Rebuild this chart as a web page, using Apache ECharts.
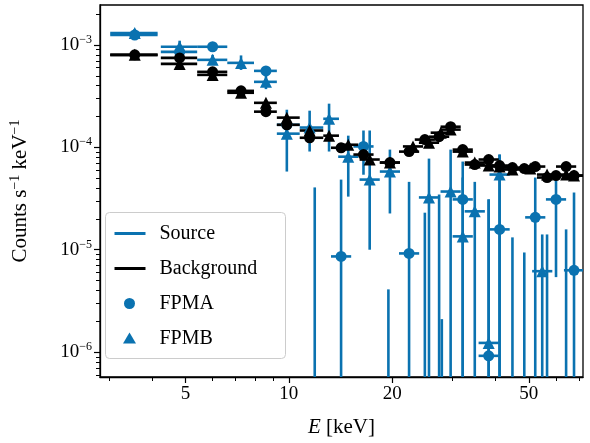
<!DOCTYPE html>
<html><head><meta charset="utf-8">
<script src="https://cdn.jsdelivr.net/npm/echarts@6/dist/echarts.min.js"></script>
<style>html,body{margin:0;padding:0;background:#fff}#c{width:590px;height:443px}</style>
</head><body><div id="c"></div>
<script>
// ---- data (energies in keV, values in counts/s/keV) ----
const xTickLabels = [5, 10, 20, 50];
const xMinorTicks = [3, 4, 6, 7, 8, 9, 30, 40, 60, 70];
const yTickDecades = [-6, -5, -4, -3];
const earlyBinLo = [3.02, 4.24, 5.41, 6.62, 7.92, 9.23, 10.76, 12.6];
const earlyBinHi = [4.15, 5.41, 6.62, 7.92, 9.23, 10.76, 12.6, 14.0];

// source FPMA: energy, value (null = no marker), low err, high err
const srcAE  = [3.56, 4.81, 6.0, 7.26, 8.58, 9.87, 11.9, 14.2, 16.5, 19.5, 22.4, 24.9, 27.4, 27.9, 32.1, 38.2, 41.1, 44.8, 48.5, 52.2, 56.5, 60.0, 64.2, 67.7];
const srcAV  = [1.25e-3, 8.55e-4, 9.6e-4, null, 5.58e-4, 1.66e-4, null, 8.6e-6, 1.02e-4, null, 9.2e-6, null, null, null, 3.1e-5, 9.2e-7, 1.58e-5, null, null, 2.07e-5, null, 3.1e-5, null, 6.3e-6];
const srcALo = [1.15e-3, 7.9e-4, 8.9e-4, null, 5.0e-4, 1.4e-4, null, null, 5.4e-5, null, null, null, null, null, null, null, null, null, null, null, null, 5.4e-6, null, null];
const srcAHi = [1.36e-3, 9.3e-4, 1.05e-3, null, 6.2e-4, 1.9e-4, 4.06e-5, 4.84e-5, 1.46e-4, 4.1e-6, 4.6e-5, 2.3e-5, 3.46e-5, 2.1e-6, 7.26e-5, 3.1e-5, 8.5e-5, 1.32e-5, 9.4e-6, 5.07e-5, 1.41e-5, 5.07e-5, 1.58e-5, 3.62e-5];

// source FPMB
const srcBE  = [3.56, 4.81, 6.0, 7.26, 8.58, 9.87, 11.5, 13.1, 14.9, 17.2, 19.7, 25.6, 29.6, 32.1, 34.8, 38.2, 41.1, 54.7];
const srcBV  = [1.31e-3, 9.6e-4, 7.15e-4, 6.68e-4, 4.36e-4, 1.36e-4, 1.56e-4, 1.9e-4, 8.1e-5, 4.84e-5, 5.8e-5, 3.24e-5, 3.7e-5, 1.35e-5, 2.37e-5, 1.23e-6, 5.42e-5, 6.17e-6];
const srcBLo = [1.2e-3, 8.5e-4, 6.4e-4, 5.7e-4, 3.7e-4, 5.8e-5, 9.1e-5, 9.1e-5, 3.3e-5, 1.0e-5, 2.26e-5, null, null, null, null, null, null, null];
const srcBHi = [1.43e-3, 1.1e-3, 8.0e-4, 7.9e-4, 5.1e-4, 2.33e-4, 2.28e-4, 2.67e-4, 1.3e-4, 1.46e-4, 9.5e-5, 7.76e-5, 9.5e-5, 5.07e-5, 4.6e-5, 3.1e-5, 8.5e-5, 1.41e-5];

// background FPMA
const bkgAE = [3.56, 4.81, 6.0, 7.26, 8.58, 9.87, 11.5, 14.2, 16.5, 19.7, 22.4, 24.9, 27.4, 29.6, 32.1, 34.8, 38.2, 41.1, 44.8, 48.5, 52.2, 56.5, 60.0, 64.2, 67.7];
const bkgAV = [8.0e-4, 7.47e-4, 5.46e-4, 3.56e-4, 2.23e-4, 1.66e-4, 1.24e-4, 9.9e-5, 8.5e-5, 7.1e-5, 9.08e-5, 1.19e-4, 1.27e-4, 1.59e-4, 9.5e-5, 6.79e-5, 7.6e-5, 6.64e-5, 6.34e-5, 6.2e-5, 6.49e-5, 5.07e-5, 5.3e-5, 6.49e-5, 5.3e-5];
// background FPMB
const bkgBE = [3.56, 4.81, 6.0, 7.26, 8.58, 9.87, 11.5, 13.1, 14.9, 17.2, 19.7, 23.0, 25.6, 27.7, 29.6, 32.1, 34.8, 38.2, 41.1, 44.8, 50.5, 56.5, 64.2, 67.7];
const bkgBV = [8.0e-4, 6.53e-4, 5.1e-4, 3.41e-4, 2.72e-4, 1.95e-4, 1.46e-4, 1.3e-4, 1.06e-4, 7.6e-5, 7.1e-5, 1.02e-4, 1.11e-4, 1.39e-4, 1.49e-4, 9.08e-5, 7.1e-5, 6.64e-5, 6.49e-5, 6.07e-5, 6.2e-5, 5.42e-5, 5.42e-5, 5.3e-5];

const BLUE = '#0a72b0', BLACK = '#000';
const L = Math.log10;
const XMIN = L(2.82), XMAX = L(71.9), YMIN = -6.243, YMAX = -2.61;

function bin(e) {
  for (let i = 0; i < earlyBinLo.length; i++) {
    const c = Math.sqrt(earlyBinLo[i] * earlyBinHi[i]);
    if (Math.abs(L(c) - L(e)) < 0.02) return [earlyBinLo[i], earlyBinHi[i]];
  }
  return [e / 1.07, e * 1.07];
}

function errSeries(E, V, Lo, Hi, color) {
  return {
    type: 'custom', silent: true, clip: true,
    data: E.map((e, i) => [L(e), i]),
    renderItem: (params, api) => {
      const i = api.value(1);
      const e = E[i], v = V[i];
      const children = [];
      const st = { stroke: color, lineWidth: 2.6 };
      const cs = params.coordSys;
      const bottom = cs.y + cs.height;
      if (v != null) {
        const b = bin(e);
        const p1 = api.coord([L(b[0]), L(v)]), p2 = api.coord([L(b[1]), L(v)]);
        children.push({ type: 'line', shape: { x1: p1[0], y1: p1[1], x2: p2[0], y2: p2[1] }, style: st });
      }
      const hi = Hi ? Hi[i] : null;
      if (hi != null) {
        const lo = Lo ? Lo[i] : null;
        const px = api.coord([L(e), L(hi)]);
        const y2 = lo != null ? api.coord([L(e), L(lo)])[1] : bottom;
        children.push({ type: 'line', shape: { x1: px[0], y1: px[1], x2: px[0], y2: y2 }, style: st });
      }
      return { type: 'group', children };
    }
  };
}
function markSeries(E, V, color, symbol, size) {
  return {
    type: 'scatter', symbol, symbolSize: size, silent: true,
    itemStyle: { color, opacity: 1 },
    data: E.map((e, i) => V[i] == null ? null : [L(e), L(V[i])]).filter(d => d)
  };
}

const sup = { fontSize: 12, verticalAlign: 'top', padding: [0, 0, 10, 0], fontFamily: 'Liberation Serif', color: '#000' };
const yMinor = [];
for (let n = -7; n <= -3; n++) for (let k = 2; k <= 9; k++) { const v = n + L(k); if (v > YMIN && v < YMAX) yMinor.push(v); }

const chart = echarts.init(document.getElementById('c'), null, { renderer: 'canvas' });
chart.setOption({
  animation: false,
  grid: { left: 97, right: 7, top: 5, bottom: 65, show: true, borderColor: '#000', borderWidth: 1.3, backgroundColor: 'transparent' },
  xAxis: [{
    type: 'value', min: XMIN, max: XMAX, splitLine: { show: false },
    axisLine: { onZero: false, lineStyle: { color: '#000', width: 1.3 } },
    axisTick: { customValues: xTickLabels.map(L), length: 6, lineStyle: { color: '#000', width: 1.2 } },
    axisLabel: { customValues: xTickLabels.map(L), formatter: v => String(Math.round(Math.pow(10, v))), color: '#000', fontFamily: 'Liberation Serif', fontSize: 19, margin: 8 },
    name: '{i|E} [keV]', nameLocation: 'middle', nameGap: 40,
    nameTextStyle: { fontFamily: 'Liberation Serif', fontSize: 21, color: '#000', rich: { i: { fontStyle: 'italic', fontFamily: 'Liberation Serif', fontSize: 21 } } }
  }, {
    type: 'value', min: XMIN, max: XMAX, position: 'bottom', splitLine: { show: false },
    axisLine: { show: false }, axisLabel: { show: false },
    axisTick: { customValues: xMinorTicks.map(L), length: 4, lineStyle: { color: '#000', width: 1 } }
  }],
  yAxis: [{
    type: 'value', min: YMIN, max: YMAX, splitLine: { show: false },
    axisLine: { onZero: false, lineStyle: { color: '#000', width: 1.3 } },
    axisTick: { customValues: yTickDecades, length: 6, lineStyle: { color: '#000', width: 1.2 } },
    axisLabel: { customValues: yTickDecades, formatter: v => '10{s|\u2212' + Math.abs(Math.round(v)) + '}', color: '#000', fontFamily: 'Liberation Serif', fontSize: 19, margin: 8, rich: { s: sup } },
    name: 'Counts s{s|\u22121} keV{s|\u22121}', nameLocation: 'middle', nameGap: 68,
    nameTextStyle: { fontFamily: 'Liberation Serif', fontSize: 21, color: '#000', rich: { s: Object.assign({}, sup, { fontSize: 14 }) } }
  }, {
    type: 'value', min: YMIN, max: YMAX, position: 'left', splitLine: { show: false },
    axisLine: { show: false }, axisLabel: { show: false },
    axisTick: { customValues: yMinor, length: 4, lineStyle: { color: '#000', width: 1 } }
  }],
  series: [
    errSeries(srcAE, srcAV, srcALo, srcAHi, BLUE),
    errSeries(srcBE, srcBV, srcBLo, srcBHi, BLUE),
    markSeries(srcAE, srcAV, BLUE, 'circle', 11),
    markSeries(srcBE, srcBV, BLUE, 'triangle', 12),
    errSeries(bkgAE, bkgAV, null, null, BLACK),
    errSeries(bkgBE, bkgBV, null, null, BLACK),
    markSeries(bkgAE, bkgAV, BLACK, 'circle', 11),
    markSeries(bkgBE, bkgBV, BLACK, 'triangle', 12)
  ],
  graphic: [{
    type: 'group', left: 105, top: 212,
    children: [
      { type: 'rect', shape: { x: 0, y: 0, width: 180, height: 146, r: 4 }, style: { fill: 'rgba(255,255,255,0.85)', stroke: '#ccc', lineWidth: 1 } },
      { type: 'line', shape: { x1: 9, y1: 21, x2: 40, y2: 21 }, style: { stroke: BLUE, lineWidth: 3 } },
      { type: 'line', shape: { x1: 9, y1: 56, x2: 40, y2: 56 }, style: { stroke: BLACK, lineWidth: 3 } },
      { type: 'circle', shape: { cx: 24, cy: 91, r: 5.5 }, style: { fill: BLUE } },
      { type: 'polygon', shape: { points: [[24, 120], [30.5, 131], [17.5, 131]] }, style: { fill: BLUE } },
      { type: 'text', x: 54, y: 21, style: { text: 'Source', fontFamily: 'Liberation Serif', fontSize: 20, fill: '#000', verticalAlign: 'middle' } },
      { type: 'text', x: 54, y: 56, style: { text: 'Background', fontFamily: 'Liberation Serif', fontSize: 20, fill: '#000', verticalAlign: 'middle' } },
      { type: 'text', x: 54, y: 91, style: { text: 'FPMA', fontFamily: 'Liberation Serif', fontSize: 20, fill: '#000', verticalAlign: 'middle' } },
      { type: 'text', x: 54, y: 126, style: { text: 'FPMB', fontFamily: 'Liberation Serif', fontSize: 20, fill: '#000', verticalAlign: 'middle' } }
    ]
  }]
});
</script></body></html>
